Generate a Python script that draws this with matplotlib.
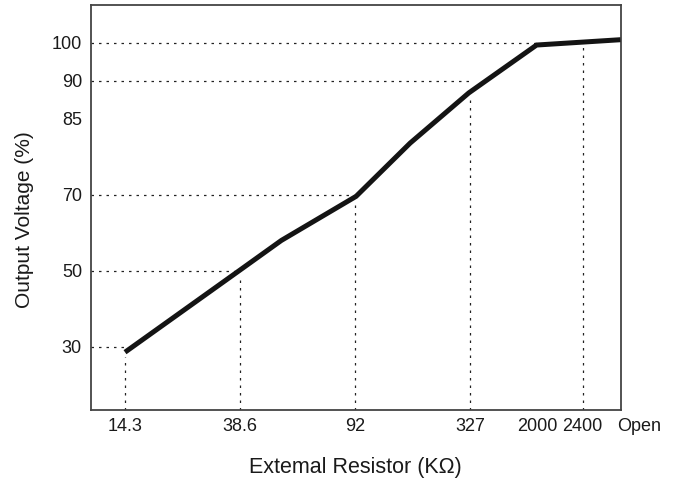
import numpy as np
import matplotlib
matplotlib.use("Agg")
import matplotlib.pyplot as plt
import matplotlib.transforms as mtransforms

plt.rcParams['font.family'] = ['Liberation Sans', 'DejaVu Sans']

# --- data ---
# x axis is a schematic (non-linear) axis: each resistor label sits on a slot
x_labels = ['14.3', '38.6', '92', '327', '2000', '2400', 'Open']
x_slots = [0.0, 1.0, 2.0, 3.0, 3.59, 3.98, 4.31]

# y axis: percent values, drawn on a piecewise scale
y_ticks = [30, 50, 70, 85, 90, 100]
y_slots = [0.0, 1.0, 2.0, 3.0, 3.5, 4.0]

# curve (x in slots, y in % output voltage)
curve_x = [0.0, 1.0, 1.36, 2.01, 2.48, 2.99, 3.58, 4.31]
curve_y = [28.6, 50.2, 58.0, 69.6, 80.2, 88.4, 99.4, 100.8]

# dotted guides
h_guides = [(30, '14.3'), (50, '38.6'), (70, '92'), (90, '327'), (100, '2000')]
v_guides = ['14.3', '38.6', '92', '327', '2400']

# piecewise linear y scale (percent -> slot), extended at both ends
pct_pts = np.array([0.0] + y_ticks + [140.0])
slot_pts = np.array([-1.5] + y_slots + [6.0])


def fwd(v):
    return np.interp(v, pct_pts, slot_pts)


def inv(s):
    return np.interp(s, slot_pts, pct_pts)


slot_of = dict(zip(x_labels, x_slots))

fig = plt.figure(figsize=(6.83, 4.86), dpi=100)
ax = fig.add_axes([0.1332, 0.1564, 0.9085 - 0.1332, 0.9887 - 0.1564])
ax.set_yscale('function', functions=(fwd, inv))

dot = dict(color='#222222', lw=0.9, linestyle=(0, (2, 4)), zorder=1)
x_left = -0.296
for yv, lab in h_guides:
    ax.plot([x_left, slot_of[lab]], [yv, yv], **dot)

y_bottom = inv(-0.83)
for lab in v_guides:
    xs = slot_of[lab]
    top = np.interp(xs, curve_x, curve_y)
    top = inv(fwd(top) - 0.06)
    ax.plot([xs, xs], [y_bottom, top], **dot)

ax.plot(curve_x, curve_y, color='#141414', lw=3.6, solid_capstyle='butt',
        solid_joinstyle='miter', zorder=3)

ax.set_xlim(x_left, 4.31)
ax.set_ylim(y_bottom, inv(4.49))
ax.set_xticks(x_slots)
ax.set_xticklabels(x_labels)
ax.set_yticks(y_ticks)
ax.set_yticklabels([str(t) for t in y_ticks])
ax.yaxis.set_minor_locator(matplotlib.ticker.NullLocator())
ax.xaxis.set_minor_locator(matplotlib.ticker.NullLocator())
ax.tick_params(axis='x', length=0, pad=5.5, labelsize=13, colors='#1a1a1a')
ax.tick_params(axis='y', length=0, pad=6.5, labelsize=13, colors='#1a1a1a')

# "Open" sits just right of the frame edge in the original
fig.canvas.draw()
open_lbl = ax.get_xticklabels()[-1]
open_lbl.set_horizontalalignment('left')
open_lbl.set_transform(open_lbl.get_transform() +
                       mtransforms.ScaledTranslation(-3 / 100, 0, fig.dpi_scale_trans))

for sp in ax.spines.values():
    sp.set_color('#444444')
    sp.set_linewidth(1.3)

ax.set_xlabel('Extemal Resistor (K\u03a9)', fontsize=15.5, labelpad=16, color='#1a1a1a')
ax.set_ylabel('Output Voltage (%)', fontsize=15, color='#1a1a1a')
ax.yaxis.set_label_coords(-0.107, 0.47)

fig.savefig('out.png', dpi=100)
